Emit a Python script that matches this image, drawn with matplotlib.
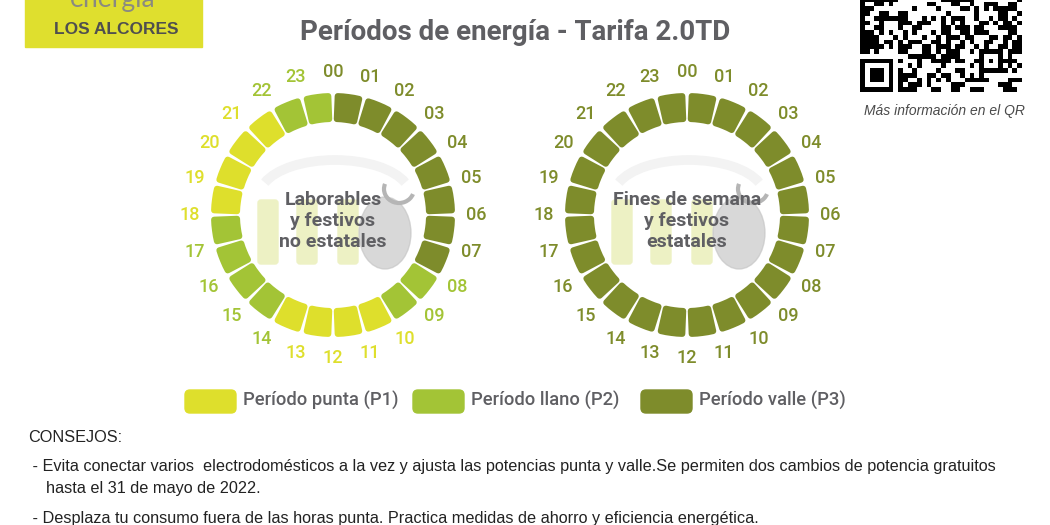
import numpy as np
import matplotlib.pyplot as plt
from matplotlib.patches import FancyBboxPatch, Rectangle, Ellipse, Arc

# periods per hour (1 = punta, 2 = llano, 3 = valle)
hours = list(range(24))
laborables = [3, 3, 3, 3, 3, 3, 3, 3, 2, 2, 1, 1, 1, 1, 2, 2, 2, 2, 1, 1, 1, 1, 2, 2]
fines_semana = [3] * 24
hour_labels = ["%02d" % h for h in hours]

period_colors = {1: "#dedf2c", 2: "#a3c436", 3: "#7e8c2b"}
legend_labels = ["Período punta (P1)", "Período llano (P2)", "Período valle (P3)"]
title = "Períodos de energía - Tarifa 2.0TD"
ring_titles = ["Laborables\ny festivos\nno estatales", "Fines de semana\ny festivos\nestatales"]
consejos = [
    "CONSEJOS:",
    " - Evita conectar varios  electrodomésticos a la vez y ajusta las potencias punta y valle.Se permiten dos cambios de potencia gratuitos",
    "    hasta el 31 de mayo de 2022.",
    " - Desplaza tu consumo fuera de las horas punta. Practica medidas de ahorro y eficiencia energética.",
]

W, H = 1050, 525
fig = plt.figure(figsize=(10.5, 5.25), dpi=100)
ax = fig.add_axes([0, 0, 1, 1])
ax.set_xlim(0, W)
ax.set_ylim(H, 0)
ax.axis("off")

grey = "#5f5f63"

# logo box
ax.add_patch(Rectangle((25, -2), 177, 49, color="#dfdf2e", zorder=1))
ax.text(113, 7, "energía", fontsize=19, color="#8a8a80", ha="center", va="baseline",
        family="Lato", zorder=2)
ax.text(116, 30, "LOS ALCORES", fontsize=12.5, weight="bold", color="#4f4f4f",
        ha="center", va="center", family="Liberation Sans", zorder=2)

# title
ax.text(515, 32, title, fontsize=20, weight="bold", color=grey,
        ha="center", va="center", family="Roboto")

# qr-like block
m = 4.75
ncol, nrow = 34, 20
qr = np.zeros((nrow, ncol))
for r in range(nrow):
    for c in range(ncol):
        qr[r, c] = 1 if ((r * 73856093) ^ (c * 19349663) ^ (r * c * 83492791)) % 97 < 46 else 0
# finder at bottom-left
fr = nrow - 7
qr[fr:fr + 7, 0:7] = 1
qr[fr + 1:fr + 6, 1:6] = 0
qr[fr + 2:fr + 5, 2:5] = 1
qr[fr - 1, 0:8] = 0
qr[fr:, 7] = 0
# alignment pattern
ar, ac = nrow - 9, ncol - 9
qr[ar:ar + 5, ac:ac + 5] = 1
qr[ar + 1:ar + 4, ac + 1:ac + 4] = 0
qr[ar + 2, ac + 2] = 1
ax.imshow(qr, cmap="gray_r", interpolation="nearest",
          extent=(860, 860 + ncol * m, 92, 92 - nrow * m), zorder=2, aspect="auto")
ax.set_xlim(0, W)
ax.set_ylim(H, 0)
ax.text(944, 111, "Más información en el QR", fontsize=10, style="italic",
        color="#4a4a4a", ha="center", va="center", family="Liberation Sans")

# rings
centers = [(333, 215), (687, 215)]
R = 150
r_in, r_out = 93, 122
corner = 3
lw_pt = 2 * corner * 0.72
seg_w = np.deg2rad(15 - 1.3) - 2 * corner / ((r_in + r_out) / 2)

for (cx, cy), data, label in zip(centers, [laborables, fines_semana], ring_titles):
    # faint watermark
    for bx in [258, 297, 338]:
        ax.add_patch(FancyBboxPatch((bx - 333 + cx + 3, 203), 14, 58,
                                    boxstyle="round,pad=3", color="#edf1c4", zorder=1))
    ax.add_patch(Ellipse((cx + 52, cy + 18), 52, 72, color="#c4c4c4", alpha=0.65, zorder=1))
    ax.add_patch(Arc((cx + 2, cy - 20), 150, 70, theta1=190, theta2=350,
                     color="#f3f3f3", lw=7, zorder=1))
    ax.add_patch(Arc((cx + 66, cy - 26), 30, 28, theta1=20, theta2=200,
                     color="#b5b5b5", lw=3, zorder=1))
    ax.text(cx, cy + 6, label, fontsize=14, weight="bold", color=grey,
            ha="center", va="center", linespacing=1.22, family="Roboto", zorder=3)

    pax = fig.add_axes([(cx - R) / W, (H - cy - R) / H, 2 * R / W, 2 * R / H],
                       projection="polar")
    pax.patch.set_alpha(0)
    pax.set_theta_zero_location("N")
    pax.set_theta_direction(-1)
    theta = np.deg2rad(np.array(hours) * 15 + 7.5)
    cols = [period_colors[p] for p in data]
    pax.bar(theta, r_out - r_in - 2 * corner, width=seg_w, bottom=r_in + corner,
            color=cols, edgecolor=cols, linewidth=lw_pt, joinstyle="round")
    for h, p in zip(hours, data):
        pax.text(np.deg2rad(h * 15), 143, hour_labels[h], color=period_colors[p],
                 fontsize=13, weight="medium", family="Roboto", ha="center", va="center")
    pax.set_ylim(0, R)
    pax.set_axis_off()

# legend
legend_x = [185, 413, 641]
for x0, p, txt in zip(legend_x, [1, 2, 3], legend_labels):
    ax.add_patch(FancyBboxPatch((x0 + 5, 395), 41, 13, boxstyle="round,pad=5",
                                color=period_colors[p], zorder=2))
    ax.text(x0 + 58, 401, txt, fontsize=13.2, weight="medium", color=grey,
            ha="left", va="center", family="Roboto")

# consejos
ys = [437, 466, 489, 518]
for y, line in zip(ys, consejos):
    ax.text(28, y, line, fontsize=11.7, color="#222222", ha="left", va="center",
            family=["Liberation Sans Narrow", "Liberation Sans"])

fig.savefig("out.png", dpi=100)
